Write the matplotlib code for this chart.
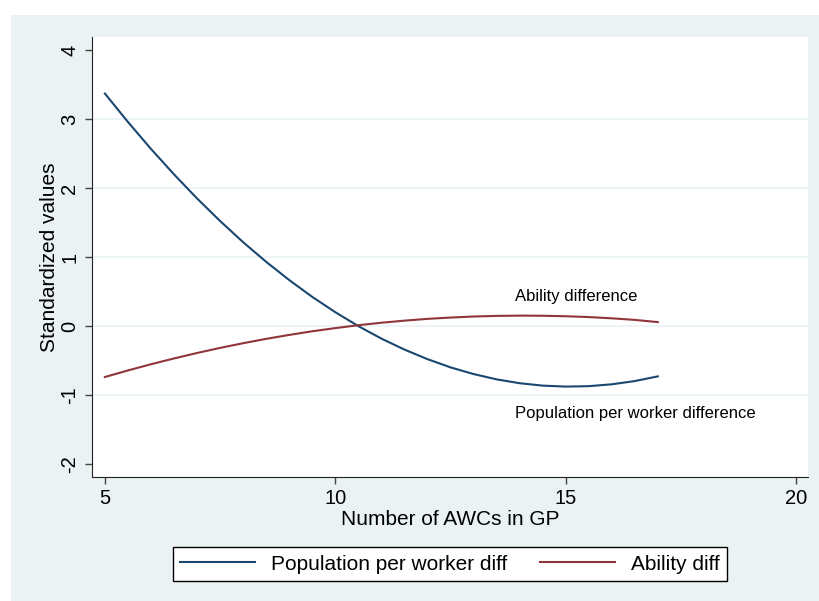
import numpy as np
import matplotlib
matplotlib.use("Agg")
from matplotlib import pyplot as plt
from matplotlib.patches import Rectangle

# datos (ajuste por numero de AWCs)
awcs = [5, 5.5, 6, 6.5, 7, 7.5, 8, 8.5, 9, 9.5, 10, 10.5, 11,
        11.5, 12, 12.5, 13, 13.5, 14, 14.5, 15, 15.5, 16, 16.5, 17]
pop_diff = [3.37, 2.958, 2.567, 2.198, 1.849, 1.522, 1.215, 0.930, 0.666, 0.422, 0.200, -0.002, -0.183,
            -0.342, -0.481, -0.600, -0.697, -0.774, -0.830, -0.865, -0.879, -0.873, -0.846, -0.799, -0.731]
ability_diff = [-0.74, -0.645, -0.555, -0.471, -0.392, -0.318, -0.250, -0.187, -0.130, -0.077, -0.031, 0.011, 0.047,
                0.077, 0.103, 0.122, 0.137, 0.146, 0.150, 0.148, 0.141, 0.129, 0.111, 0.088, 0.056]

x_ticks = [5, 10, 15, 20]
y_ticks = [-2, -1, 0, 1, 2, 3, 4]
y_grid = [-1, 0, 1, 2, 3]

plt.rcParams["font.family"] = ["Liberation Sans", "DejaVu Sans"]
plt.rcParams["axes.unicode_minus"] = False

BG = "#EAF2F3"
BLUE = "#1A476F"
RED = "#90353B"

W, H = 819, 601
fig = plt.figure(figsize=(W / 100, H / 100), dpi=100, facecolor="white")

# fondo tipo Stata
fig.patches.append(Rectangle((11 / W, 0), 1 - 11 / W, 1 - 15 / H,
                             transform=fig.transFigure, facecolor=BG,
                             edgecolor="none", zorder=-10))

ax = fig.add_axes([92 / W, 1 - 477 / H, (808 - 92) / W, (477 - 37) / H])
ax.set_facecolor("white")

for yg in y_grid:
    ax.axhline(yg, color=BG, lw=1.2, zorder=1)

ax.plot(awcs, pop_diff, color=BLUE, lw=1.5, label="Population per worker diff",
        solid_joinstyle="round", zorder=3)
ax.plot(awcs, ability_diff, color=RED, lw=1.5, label="Ability diff",
        solid_joinstyle="round", zorder=3)

ax.text(13.89, 0.42, "Ability difference", fontsize=12, va="center", ha="left")
ax.text(13.89, -1.27, "Population per worker difference", fontsize=12, va="center", ha="left")

ax.set_xlim(4.72, 20.26)
ax.set_ylim(-2.19, 4.19)
ax.set_xticks(x_ticks)
ax.set_yticks(y_ticks)
ax.tick_params(axis="both", labelsize=14.5, length=5, width=1, color="#444444", pad=4)
for lbl in ax.get_yticklabels():
    lbl.set_rotation(90)
    lbl.set_va("center")

ax.spines["top"].set_visible(False)
ax.spines["right"].set_visible(False)
ax.spines["left"].set_color("#222222")
ax.spines["bottom"].set_color("#222222")

ax.set_xlabel("Number of AWCs in GP", fontsize=15, labelpad=1)
ax.set_ylabel("Standardized values", fontsize=15, labelpad=1)

leg = fig.legend(loc="center", bbox_to_anchor=(450 / W, 1 - 564 / H), ncol=2,
                 fontsize=15, frameon=True, fancybox=False, edgecolor="black",
                 facecolor="white", framealpha=1.0,
                 handlelength=3.6, handletextpad=0.75, columnspacing=1.6,
                 borderpad=0.35)
leg.get_frame().set_linewidth(1.0)

fig.savefig("out.png", dpi=100, facecolor=fig.get_facecolor())
